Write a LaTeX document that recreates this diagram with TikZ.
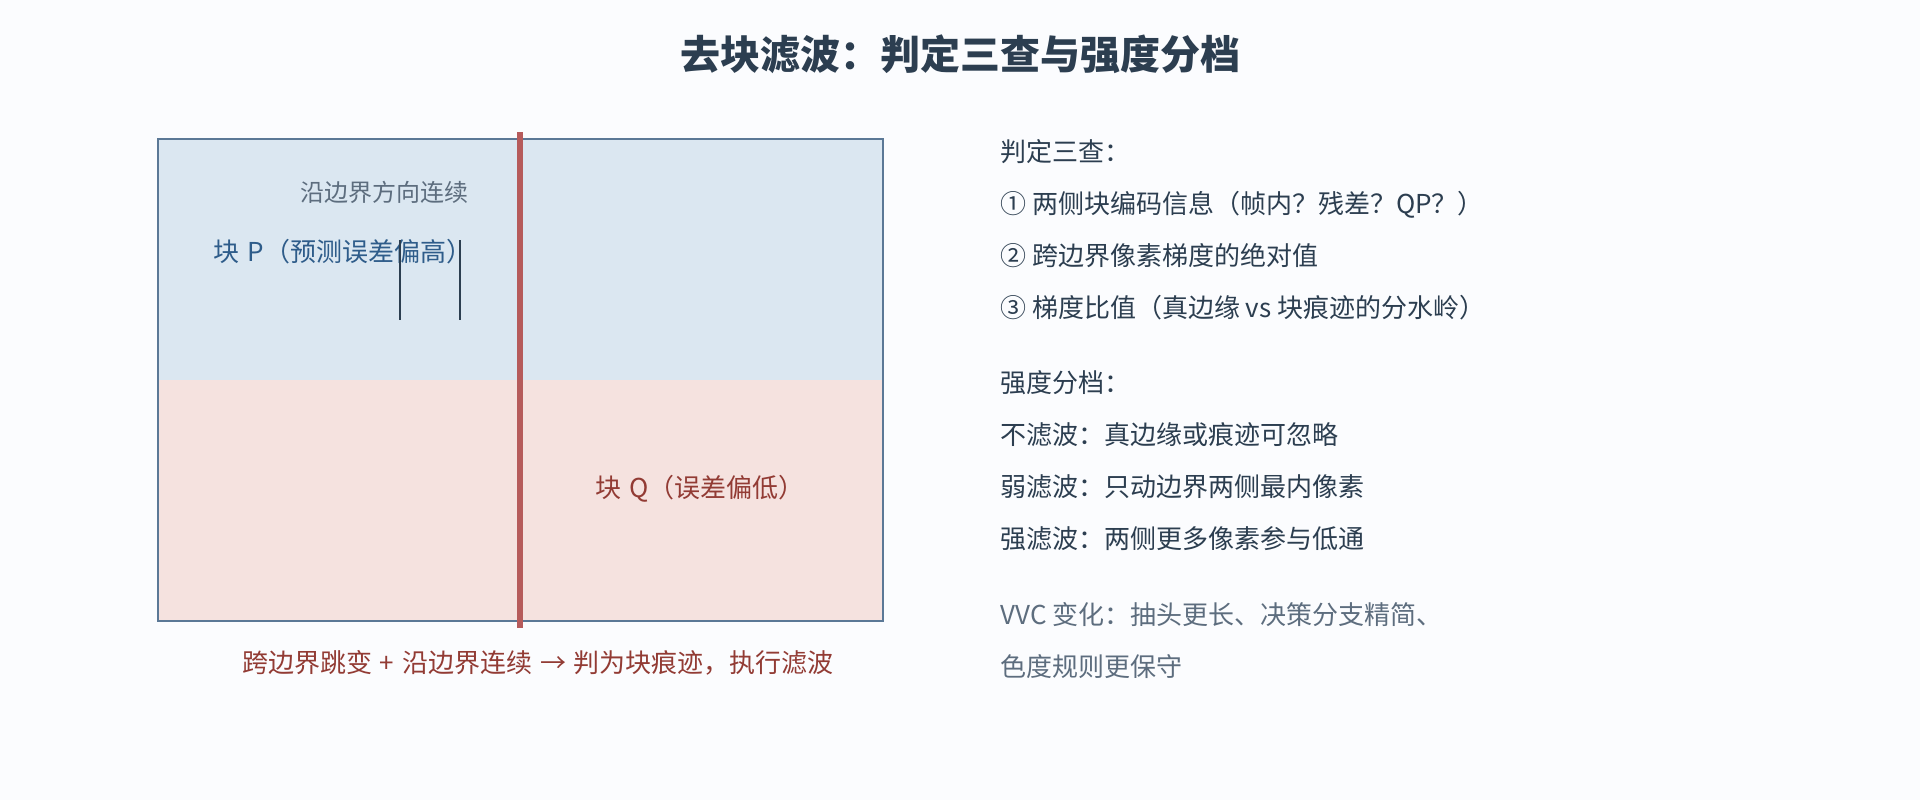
\documentclass[tikz,border=0pt]{standalone}
\usepackage{fontspec}
\setmainfont{Noto Sans CJK SC}
\usepackage{tikz}
\usetikzlibrary{arrows}

\definecolor{bgcol}{RGB}{251,252,254}
\definecolor{titlecol}{RGB}{44,62,80}
\definecolor{graycol}{RGB}{93,109,126}
\definecolor{pcol}{RGB}{46,92,138}
\definecolor{qcol}{RGB}{146,59,52}
\definecolor{pfill}{RGB}{219,231,241}
\definecolor{qfill}{RGB}{245,226,223}
\definecolor{boxcol}{RGB}{91,120,150}
\definecolor{edgecol}{RGB}{182,91,91}

\begin{document}
\begin{tikzpicture}[x=1pt,y=-1pt]

  %Styles for picture
  \tikzset
  {
  titletext/.style={inner sep=0pt, text height=35pt, text depth=5pt, font=\fontsize{40}{48}\selectfont\bfseries, text=titlecol},
  bodytext/.style={anchor=west, inner sep=0pt, text height=22.9pt, text depth=3.1pt, font=\fontsize{26}{30}\selectfont, text=titlecol},
  graytext/.style={bodytext, text=graycol},
  labeltext/.style={inner sep=0pt, text height=22.9pt, text depth=3.1pt, font=\fontsize{26}{30}\selectfont},
  smalltext/.style={inner sep=0pt, text height=21.1pt, text depth=2.9pt, font=\fontsize{24}{28}\selectfont},
  boxline/.style={draw=boxcol, line width=2pt},
  edgeline/.style={draw=edgecol, line width=5.5pt},
  tickline/.style={draw=titlecol, line width=2.5pt},
  }

  %Canvas
  \fill[bgcol] (0,0) rectangle (1920,800);
  \useasboundingbox (0,0) rectangle (1920,800);

  %Title
  \node[titletext] (title) at (960,55) {去块滤波：判定三查与强度分档};

  %Blocks
  \coordinate (boxnw) at (158,139);
  \coordinate (boxmid) at (883,380);
  \coordinate (boxsw) at (158,380);
  \coordinate (boxse) at (883,621);
  \fill[pfill] (boxnw) rectangle (boxmid);
  \fill[qfill] (boxsw) rectangle (boxse);
  \draw[boxline] (boxnw) rectangle (boxse);

  %Block labels
  \node[smalltext, text=graycol] (along) at (384,192) {沿边界方向连续};
  \node[labeltext, text=pcol] (blockp) at (343,252) {块\hspace{0.3em}P（预测误差偏高）};
  \node[labeltext, text=qcol] (blockq) at (700,488) {块\hspace{0.3em}Q（误差偏低）};

  %Edges
  \coordinate (edgetop) at (520,132);
  \coordinate (edgebot) at (520,628);
  \draw[edgeline] (edgetop) -- (edgebot);
  \coordinate (ticka1) at (400,240);
  \coordinate (ticka2) at (400,320);
  \coordinate (tickb1) at (460,240);
  \coordinate (tickb2) at (460,320);
  \draw[tickline] (ticka1) -- (ticka2);
  \draw[tickline] (tickb1) -- (tickb2);

  %Caption
  \node[labeltext, text=qcol] (caption) at (538,663) {跨边界跳变\hspace{0.3em}+\hspace{0.3em}沿边界连续\hspace{0.3em}→\hspace{0.3em}判为块痕迹，执行滤波};

  %Right column
  \node[bodytext] (chk0) at (1000,152) {判定三查：};
  \node[bodytext] (chk1) at (1000,204) {① 两侧块编码信息（帧内？残差？QP？）};
  \node[bodytext] (chk2) at (1000,256) {② 跨边界像素梯度的绝对值};
  \node[bodytext] (chk3) at (1000,308) {③ 梯度比值（真边缘 vs 块痕迹的分水岭）};
  \node[bodytext] (lvl0) at (1000,383) {强度分档：};
  \node[bodytext] (lvl1) at (1000,435) {不滤波：真边缘或痕迹可忽略};
  \node[bodytext] (lvl2) at (1000,487) {弱滤波：只动边界两侧最内像素};
  \node[bodytext] (lvl3) at (1000,539) {强滤波：两侧更多像素参与低通};
  \node[graytext] (vvc1) at (1000,615) {VVC 变化：抽头更长、决策分支精简、};
  \node[graytext] (vvc2) at (1000,667) {色度规则更保守};
\end{tikzpicture}
\end{document}
